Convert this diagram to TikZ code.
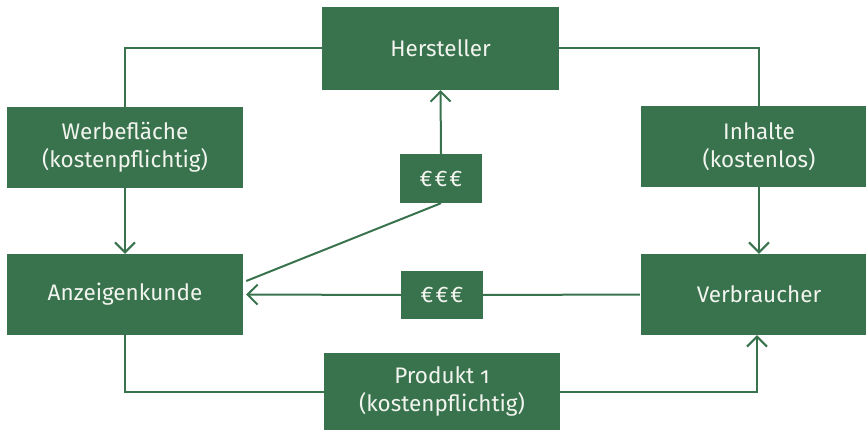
\documentclass[tikz,border=0pt]{standalone}
\usepackage{fontspec}
\setmainfont{Fira Sans}[Numbers=OldStyle]
\usetikzlibrary{arrows.meta}
\definecolor{grn}{RGB}{56,115,78}
\definecolor{txt}{RGB}{242,244,238}
\begin{document}
\begin{tikzpicture}[x=1pt,y=-1pt,
  box/.style={fill=grn,draw=none,text=txt,align=center,font=\fontsize{22.5}{27.5}\selectfont,inner sep=0pt,minimum width=236pt,minimum height=81pt},
  ebox/.style={box,minimum width=82pt,minimum height=48pt},
  conn/.style={draw=grn,line width=2pt},
  arr/.style={conn,-{Straight Barb[length=10pt,width=20pt,line width=2pt]}}]
\useasboundingbox (0,0) rectangle (866,430);
\clip (0,0) rectangle (866,430);
\node[box,minimum width=237pt,minimum height=83pt] (H) at (440.5,48.5) {Hersteller};
\node[box] (W) at (125,147.5) {Werbefläche\\(kostenpflichtig)};
\node[box] (I) at (759,146.5) {Inhalte\\(kostenlos)};
\node[box] (A) at (125,294.5) {Anzeigenkunde};
\node[box] (V) at (759,294.5) {Verbraucher};
\node[box,minimum width=236pt,minimum height=77pt] (P) at (442,391.5) {Produkt 1\\(kostenpflichtig)};
\node[ebox,minimum height=49pt] (E1) at (441,178.5) {€\kern2pt€\kern2pt€};
\node[ebox] (E2) at (442,295) {€\kern2pt€\kern2pt€};
\coordinate (Ad) at ([shift={(3,-13.5)}]A.east);
\draw[conn] (H.west) -| (W.north);
\draw[conn] (H.east) -| (I.north);
\draw[arr] (W.south) -- (A.north);
\draw[arr] (I.south) -- (V.north);
\draw[arr] (E1.north) -- (H.south);
\draw[conn] (E1.south) -- (Ad);
\draw[conn,shorten <=1pt] (V.west) -- (E2.east);
\draw[arr,shorten >=3pt] (E2.west) -- (A.east);
\draw[conn] (A.south) |- (P.west);
\draw[arr] (P.east) -| ([xshift=-2pt]V.south);
\end{tikzpicture}
\end{document}
